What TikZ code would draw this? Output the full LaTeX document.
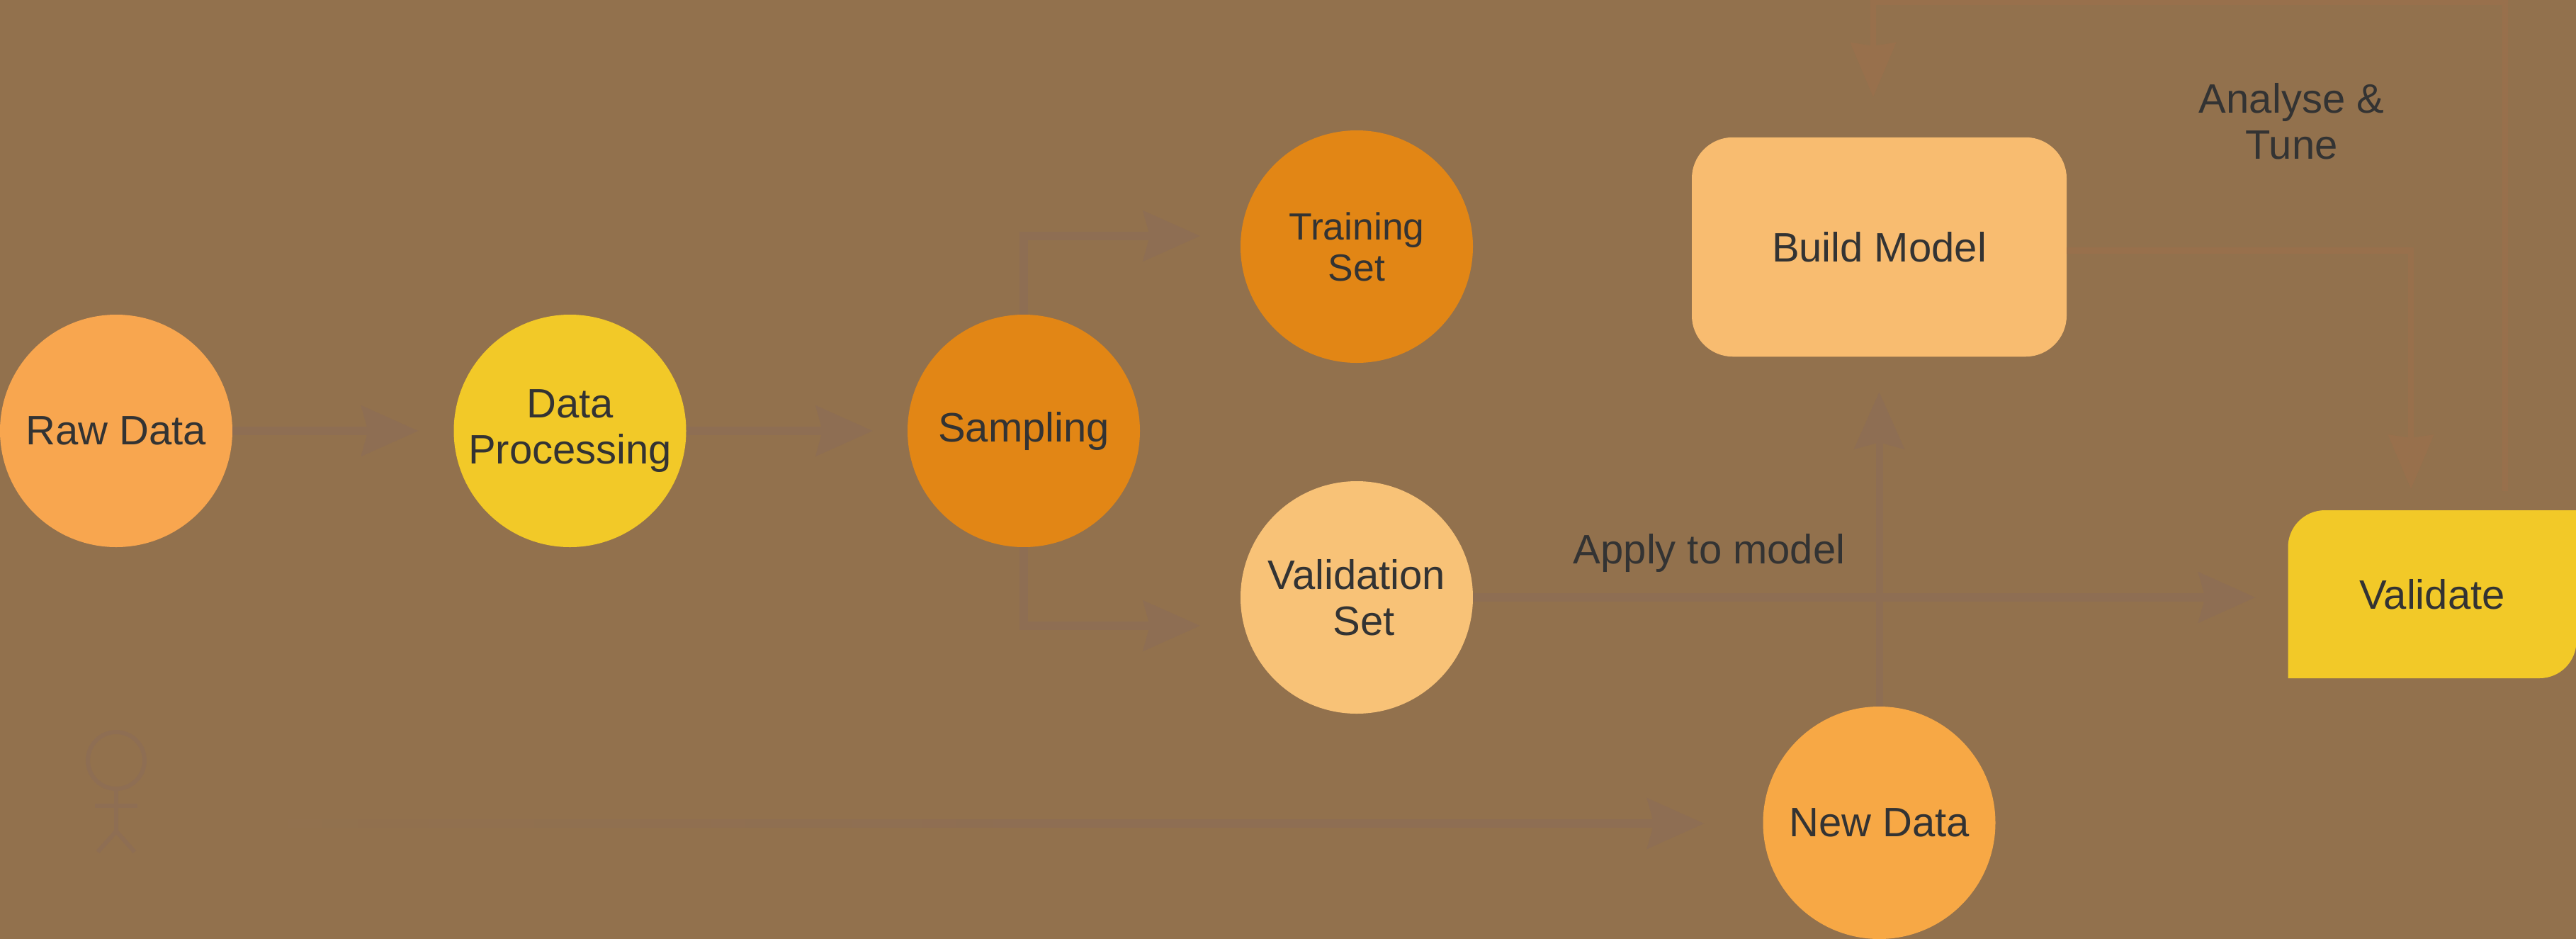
\documentclass[tikz,border=0pt]{standalone}
\usepackage{fontspec}
\setmainfont{Liberation Sans}
\usetikzlibrary{arrows.meta,positioning,backgrounds}
\definecolor{pagebrown}{HTML}{92714D}
\definecolor{flowbrown}{HTML}{8E6E53}
\definecolor{tunebrown}{HTML}{98704C}
\definecolor{fadebrown}{HTML}{95754F}
\definecolor{inkgray}{HTML}{333333}
\definecolor{rawfill}{HTML}{F8A64F}
\definecolor{yellowfill}{HTML}{F2C928}
\definecolor{darkfill}{HTML}{E28615}
\definecolor{lightfill}{HTML}{F8C277}
\definecolor{buildfill}{HTML}{F8BC70}
\definecolor{newfill}{HTML}{F7A845}

\begin{document}
\begin{tikzpicture}[
		node distance=6.405cm,
		font=\fontsize{16.5}{18.5}\selectfont,
		stage/.style={
			circle,
			minimum size=3.28cm,
			inner sep=0pt,
			outer sep=0pt,
			align=center,
			text=inkgray
		},
		flow/.style={
			draw=flowbrown,
			line width=.115cm,
			-{Stealth[length=.8cm,width=.7cm,inset=.09cm]}
		},
		tune/.style={
			draw=tunebrown,
			line width=.085cm,
			-{Stealth[length=.76cm,width=.63cm,inset=.04cm]}
		},
		figure/.style={
			draw=flowbrown,
			line width=.06cm
		},
		label/.style={
			text=inkgray,
			align=center
		}
		]
		\useasboundingbox (0,0) rectangle (36.36,-13.24);
		\begin{scope}[on background layer]
			\fill[pagebrown] (-.2,.2) rectangle (36.56,-13.44);
		\end{scope}
		
		% We start by placing the blocks
		\node [stage, fill=rawfill] (rawdata) at (1.64,-6.08) {Raw Data};
		\node [stage, fill=yellowfill, right of=rawdata] (dataproc) {Data\\Processing};
		\node [stage, fill=darkfill, right of=dataproc] (sampling) {Sampling};
		\node [stage, fill=darkfill, right of=sampling, xshift=-1.705cm, yshift=2.6cm, font=\fontsize{15.2}{16.5}\selectfont] (training) {Training\\Set};
		\node [stage, fill=lightfill, right of=sampling, xshift=-1.705cm, yshift=-2.35cm] (validation) {Validation\\\hspace*{.2cm}Set};
		\node [stage, fill=newfill, right of=validation, xshift=.97cm, yshift=-3.18cm] (newdata) {New Data};
		\node [above of=newdata, yshift=1.72cm, rectangle, rounded corners=.58cm, minimum width=5.29cm, minimum height=3.095cm, outer sep=0pt, fill=buildfill, text=inkgray] (build) {Build Model};
		\node [right of=validation, xshift=8.775cm, yshift=.045cm, minimum width=4.07cm, minimum height=2.37cm, outer sep=0pt, text=inkgray] (validate) {Validate};
		\begin{scope}[on background layer]
			\fill[yellowfill] (validate.south west) [rounded corners=.52cm] -- (validate.north west) [sharp corners] -- (validate.north east) [rounded corners=.52cm] -- (validate.south east) [sharp corners] -- cycle;
		\end{scope}
		\node [label, right of=build, xshift=-.585cm, yshift=1.77cm] (analyse) {Analyse \&\\Tune};
		
		% The little figure at the bottom left
		\node [below of=rawdata, yshift=1.755cm, circle, minimum size=.8cm, inner sep=0pt, figure] (actor) {};
		\draw [figure] (actor.south) -- ++(0,-.57) coordinate (hip) -- ++(-.26,-.29);
		\draw [figure] (hip) -- ++(.26,-.29);
		\draw [figure] ([xshift=-.3cm,yshift=-.21cm]actor.south) -- ([xshift=.3cm,yshift=-.21cm]actor.south);
		
		% Lines
		\coordinate (fadestart) at (3.06,-11.62);
		\coordinate (fadeend) at (15,-11.62);
		\coordinate (tunetop) at (26.44,-.03);
		\shade [left color=pagebrown, middle color=fadebrown, right color=flowbrown] ([yshift=.058cm]fadestart) rectangle ([yshift=-.058cm]fadeend);
		\draw [flow, shorten >=.5cm] (rawdata) -- (dataproc);
		\draw [flow, shorten >=.49cm] (dataproc) -- (sampling);
		\draw [flow, shorten >=.57cm] (sampling) |- ([yshift=.15cm]training.west);
		\draw [flow, shorten >=.57cm] (sampling) |- ([yshift=-.4cm]validation.west);
		\draw [flow, shorten >=.46cm] (validation) -- node [label, pos=.29, above=.18cm] (applylabel) {Apply to model} (validation -| validate.west);
		\draw [flow, line width=.1cm, shorten >=.5cm] (newdata) -- (build);
		\draw [flow, shorten >=.83cm] (fadeend) -- (fadeend -| newdata.west);
		\draw [tune, shorten >=.3cm] ([yshift=-.05cm]build.east) -| ([xshift=-.3cm]validate.north);
		\draw [tune, shorten <=.27cm, shorten >=.57cm] ([xshift=1.03cm]validate.north) |- (tunetop) -- (tunetop |- build.north);
		
		\end{tikzpicture}
\end{document}
